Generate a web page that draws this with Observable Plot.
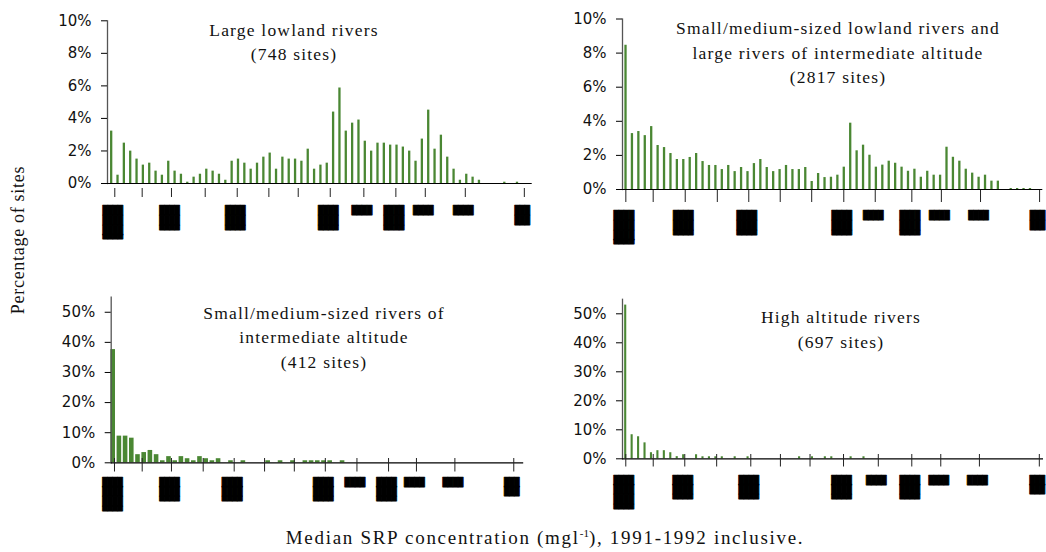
<!DOCTYPE html>
<html><head><meta charset="utf-8">
<script src="https://cdn.jsdelivr.net/npm/d3@7"></script>
<script src="https://cdn.jsdelivr.net/npm/@observablehq/plot@0.6"></script>
<style>
body{margin:0;background:#fff;}
#root{position:relative;width:1046px;height:552px;overflow:hidden;background:#fff;}
.panel{position:absolute;}
.title{position:absolute;transform:translateX(-50%);text-align:center;white-space:nowrap;font-family:"Liberation Serif",serif;font-size:17.5px;line-height:24.5px;letter-spacing:1.2px;color:#111;}
.ylab{position:absolute;left:18px;top:240px;transform:translate(-50%,-50%) rotate(-90deg);white-space:nowrap;font-family:"Liberation Serif",serif;font-size:18px;letter-spacing:0.7px;color:#111;}
.cap{position:absolute;left:545px;top:527px;transform:translateX(-50%);white-space:nowrap;font-family:"Liberation Serif",serif;font-size:19px;letter-spacing:1.7px;color:#111;}
.cap sup{font-size:11px;letter-spacing:0;}
</style></head>
<body><div id="root"></div>
<script>
// Percentage of sites per SRP concentration class (class index = array position)
const largeLowland = [3.22,0.51,2.48,1.99,1.5,1.13,1.25,0.76,0.51,1.37, 0.76,0.57,0.08,0.39,0.57,0.88,0.76,0.57,0.2,1.37, 1.5,1.25,0.88,1.25,1.62,1.87,0.88,1.62,1.5,1.5, 1.37,2.11,0.88,1.13,1.25,4.39,5.87,3.22,3.71,3.9, 2.6,1.99,2.48,2.48,2.36,2.36,2.24,1.99,1.37,2.73, 4.51,2.11,2.97,1.62,0.88,0.2,0.57,0.39,0.2,0, 0,0,0.08,0,0.08];
const smallLowland = [8.46,3.28,3.4,3.16,3.69,2.58,2.46,2.11,1.76,1.76, 1.88,2.11,1.64,1.41,1.41,1.17,1.41,1.05,1.29,1.05, 1.52,1.76,1.29,1.05,1.17,1.41,1.17,1.17,1.29,0.47, 0.94,0.7,0.72,0.84,1.31,3.89,2.27,2.6,2.01,1.31, 1.43,1.66,1.54,1.31,1.07,1.19,0.72,1.07,0.84,0.84, 2.48,1.89,1.66,1.19,0.96,0.72,0.84,0.49,0.49,0, 0.06,0.06,0.06,0.06];
const smallIntermediate = [37.6,8.86,8.86,8.18,2.7,3.4,4.1,2.7,0.68,2.05, 0.68,2.05,1.36,0.68,2.05,1.36,0.68,1.36,0,0.68, 0,0.68,0,0,0,0.68,0,0.68,0,0.68, 0,0.68,0.68,0.68,0.68,0.68,0,0.68];
const highAltitude = [53.0,8.3,7.6,5.5,2.1,2.8,2.8,2.1,0.75,1.4, 0,1.4,0.7,0.7,0.7,0.7,0,0.7,0,0.7, 0,0,0,0,0,0,0,0.7,0,0.7, 0,0.7,0.7,0,0,0.7,0,0.7];

// x tick positions (in class-index units) for each panel
const ticksLargeLowland = [0.57,4.89,9.51,14.83,19.88,24.87,29.5,34.55,39.85,44.9,49.54,55.85,65.16];
const ticksSmallLowland = [0.05,4.31,9.3,14.3,19.2,24.1,29.0,34.0,38.9,44.6,49.2,55.3,64.5];
const ticksSmallIntermediate = [0.29,4.76,9.48,14.6,19.6,24.5,29.3,34.3,39.4,44.5,49.0,55.2,64.7];
const ticksHighAltitude = [0.09,4.35,9.25,14.2,19.5,24.1,28.7,33.9,39.3,44.5,49.0,55.0,64.3];

// the illegible (blacked-out) x tick labels, one per tick
const tickLabelBlocks = ["████\n████\n████\n▀▀▀▀","","████\n████\n▀▀▀▀","","████\n████\n▀▀▀▀","","","████\n████\n▀▀▀▀","████","████\n████\n▀▀▀▀","████","████","███\n███"];

const yTicksSmall = [0,2,4,6,8,10];
const yTicksLarge = [0,10,20,30,40,50];

const titles = [
  ["Large lowland rivers","(748 sites)"],
  ["Small/medium-sized lowland rivers and","large rivers of intermediate altitude","(2817 sites)"],
  ["Small/medium-sized rivers of","intermediate altitude","(412 sites)"],
  ["High altitude rivers","(697 sites)"]
];

const GREEN = "#4a8733";
const root = document.getElementById("root");

function panel(o) {
  const data = o.values.map((v, i) => ({i, v})).filter(d => d.v > 0);
  const labelOf = new Map(o.ticks.map((t, k) => [t, tickLabelBlocks[k]]));
  const svg = Plot.plot({
    width: o.width, height: o.height,
    marginLeft: o.ml, marginRight: o.mr, marginTop: o.mt, marginBottom: o.mb,
    style: {overflow: "visible", background: "transparent"},
    x: {domain: o.xDomain, axis: null},
    y: {domain: [0, o.yMax], axis: null},
    marks: [
      Plot.ruleX(data, {x: "i", y1: 0, y2: "v", stroke: GREEN, strokeWidth: o.barW}),
      Plot.frame({anchor: "left", stroke: "#555", strokeWidth: 1.3}),
      Plot.ruleY([0], {stroke: "#000", strokeWidth: 1.2}),
      Plot.axisY({ticks: o.yTicks, tickFormat: d => d + "%", tickSize: 6, tickPadding: 10, label: null,
        fontFamily: "DejaVu Sans", fontSize: 15, fill: "#111"}),
      Plot.axisX(o.ticks, {tickSize: o.tickLen, dy: o.tickDy, tickFormat: () => "", label: null, stroke: "#222"}),
      Plot.axisX(o.ticks, {tickSize: 0, tickPadding: o.labelPad, dx: -2, tickFormat: d => labelOf.get(d) ?? "", label: null,
        fontFamily: "DejaVu Sans Mono", fontSize: 8.4, lineHeight: 1.15, fill: "#000",
        textStroke: "#000", textStrokeWidth: 0.8})
    ]
  });
  svg.classList.add("panel");
  svg.style.left = o.left + "px";
  svg.style.top = o.top + "px";
  root.appendChild(svg);
}

panel({values: largeLowland, ticks: ticksLargeLowland, yMax: 10, yTicks: yTicksSmall,
  left: 0, top: 0, width: 545, height: 250, ml: 107, mr: 13.3, mt: 20.3, mb: 67,
  xDomain: [-0.58, 66.4], barW: 2.3, tickLen: 9, tickDy: 5, labelPad: 23});
panel({values: smallLowland, ticks: ticksSmallLowland, yMax: 10, yTicks: yTicksSmall,
  left: 545, top: 0, width: 501, height: 250, ml: 77, mr: 3.7, mt: 18.5, mb: 61,
  xDomain: [-0.47, 65.0], barW: 2.3, tickLen: 12, tickDy: 1, labelPad: 22});
panel({values: smallIntermediate, ticks: ticksSmallIntermediate, yMax: 55, yTicks: yTicksLarge,
  left: 0, top: 260, width: 545, height: 260, ml: 110.7, mr: 21.8, mt: 36.7, mb: 57.7,
  xDomain: [-0.24, 66.3], barW: 4.6, tickLen: 13.5, tickDy: -4.3, labelPad: 15});
panel({values: highAltitude, ticks: ticksHighAltitude, yMax: 55, yTicks: yTicksLarge,
  left: 545, top: 260, width: 501, height: 260, ml: 77, mr: 3, mt: 38.8, mb: 61.7,
  xDomain: [-0.42, 64.95], barW: 2.1, tickLen: 12.5, tickDy: -4.3, labelPad: 17});

// titles
const titlePos = [[294, 17.9], [838, 16.2], [324, 300.9], [841, 305.2]];
titles.forEach((lines, k) => {
  const d = document.createElement("div");
  d.className = "title";
  d.style.left = titlePos[k][0] + "px";
  d.style.top = titlePos[k][1] + "px";
  d.innerHTML = lines.join("<br>");
  root.appendChild(d);
});

const yl = document.createElement("div");
yl.className = "ylab";
yl.textContent = "Percentage of sites";
root.appendChild(yl);

const cap = document.createElement("div");
cap.className = "cap";
cap.innerHTML = "Median SRP concentration (mgl<sup>-1</sup>), 1991-1992 inclusive.";
root.appendChild(cap);
</script>
</body></html>
